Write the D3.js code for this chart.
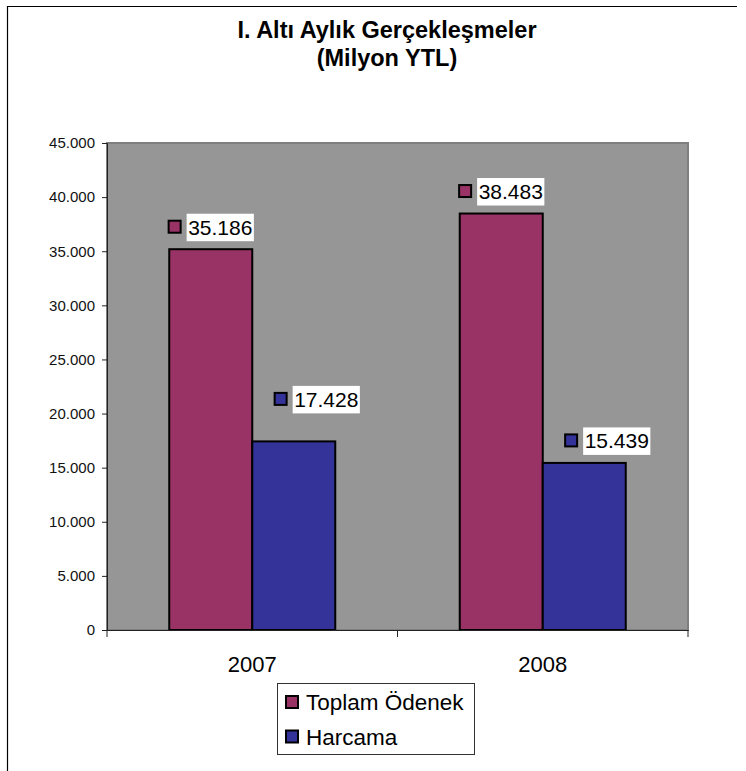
<!DOCTYPE html>
<html>
<head>
<meta charset="utf-8">
<script src="https://cdn.jsdelivr.net/npm/d3@7"></script>
<style>
  body { margin: 0; background: #fff; }
  svg { display: block; font-family: "Liberation Sans", Arial, sans-serif; }
</style>
</head>
<body>
<svg id="chart" width="746" height="771"></svg>
<script>
// data
const categories = ['2007', '2008'];
const seriesNames = ['Toplam Ödenek', 'Harcama'];
const toplamOdenek = [35186, 38483];
const harcama = [17428, 15439];
const yTicks = [0, 5000, 10000, 15000, 20000, 25000, 30000, 35000, 40000, 45000];
const titleLines = ['I. Altı Aylık Gerçekleşmeler', '(Milyon YTL)'];

const colors = ['#993366', '#333399'];
// hand-placed label shifts, [series][category] -> [dx, dy]
const labelShift = [[[0, 0], [0, 0]], [[23, 20], [23, 0]]];

const values = [toplamOdenek, harcama];
const trFormat = d3.formatLocale({ decimal: ',', thousands: '.', grouping: [3], currency: ['', ''] }).format(',d');

const svg = d3.select('#chart');
const margin = { top: 143, bottom: 141, left: 107, right: 58 };
const width = +svg.attr('width');
const height = +svg.attr('height');

// outer frame (only top and left are inside the picture)
svg.append('path')
  .attr('d', `M7.5,${height} V6.5 H737`)
  .attr('fill', 'none')
  .attr('stroke', '#000')
  .attr('stroke-width', 1.2);

// title
svg.append('text')
  .attr('text-anchor', 'middle')
  .attr('font-weight', 'bold')
  .attr('font-size', 23.5)
  .selectAll('tspan')
  .data(titleLines)
  .join('tspan')
  .attr('x', 387)
  .attr('y', (d, i) => 38 + i * 28)
  .text(d => d);

let x0 = d3.scaleBand()
  .domain(categories)
  .range([margin.left, width - margin.right])
  .padding(0);
let x1 = d3.scaleBand()
  .domain(seriesNames)
  .range([0, x0.bandwidth()])
  .paddingInner(0)
  .paddingOuter(0.75);
let y = d3.scaleLinear()
  .domain([0, 45000])
  .range([height - margin.bottom, margin.top]);

// plot area
svg.append('rect')
  .attr('x', margin.left)
  .attr('y', margin.top)
  .attr('width', width - margin.left - margin.right)
  .attr('height', y(0) - margin.top)
  .attr('fill', '#969696')
  .attr('stroke', '#7f7f7f')
  .attr('stroke-width', 2);

// y axis
let yAxis = g => g
  .attr('transform', `translate(${margin.left},0)`)
  .call(d3.axisLeft(y).tickValues(yTicks).tickFormat(trFormat).tickSize(5).tickPadding(7))
  .call(g => g.selectAll('text').attr('font-size', 15).attr('fill', '#111').attr('font-family', 'Liberation Sans, Arial, sans-serif'))
  .call(g => g.selectAll('line, path').attr('stroke', '#222'));
svg.append('g').call(yAxis);

// bars
const bars = [];
seriesNames.forEach((s, si) => {
  categories.forEach((c, ci) => {
    bars.push({ series: s, si: si, cat: c, ci: ci, value: values[si][ci] });
  });
});

svg.append('g')
  .selectAll('rect')
  .data(bars)
  .join('rect')
  .attr('x', d => x0(d.cat) + x1(d.series))
  .attr('y', d => y(d.value))
  .attr('width', x1.bandwidth())
  .attr('height', d => y(0) - y(d.value))
  .attr('fill', d => colors[d.si])
  .attr('stroke', '#000')
  .attr('stroke-width', 2);

// x axis
let xAxis = g => g
  .attr('transform', `translate(0,${y(0)})`)
  .call(d3.axisBottom(x0).tickSize(0).tickPadding(26).tickSizeOuter(0))
  .call(g => g.select('.domain').attr('stroke', '#222'))
  .call(g => g.selectAll('text').attr('font-size', 22).attr('fill', '#000').attr('font-family', 'Liberation Sans, Arial, sans-serif'));
svg.append('g').call(xAxis);

// category boundary ticks
const boundaries = categories.map(c => x0(c)).concat([x0.range()[1]]);
svg.append('g')
  .selectAll('line')
  .data(boundaries)
  .join('line')
  .attr('x1', d => d).attr('x2', d => d)
  .attr('y1', y(0)).attr('y2', y(0) + 7)
  .attr('stroke', '#222');

// data labels
const lab = svg.append('g').attr('font-size', 21);
bars.forEach(d => {
  const [dx, dy] = labelShift[d.si][d.ci];
  const g = lab.append('g');
  const t = g.append('text').text(trFormat(d.value));
  const tw = t.node().getComputedTextLength();
  const boxW = tw + 3;
  const groupW = 14 + 5 + boxW;
  const cx = x0(d.cat) + x1(d.series) + x1.bandwidth() / 2 + dx;
  const left = cx - groupW / 2;
  const boxBottom = y(d.value) - 8 - dy;
  const boxTop = boxBottom - 27.5;
  g.insert('rect', 'text')
    .attr('x', left + 19)
    .attr('y', boxTop)
    .attr('width', boxW)
    .attr('height', 27.5)
    .attr('fill', '#fff');
  t.attr('x', left + 20.5).attr('y', boxTop + 21);
  g.append('rect')
    .attr('x', left + 1)
    .attr('y', boxTop + 7)
    .attr('width', 12)
    .attr('height', 12)
    .attr('fill', colors[d.si])
    .attr('stroke', '#000')
    .attr('stroke-width', 2);
});

// legend
const legend = svg.append('g').attr('transform', 'translate(277.5,683.5)');
legend.append('rect')
  .attr('width', 197)
  .attr('height', 71)
  .attr('fill', '#fff')
  .attr('stroke', '#333')
  .attr('stroke-width', 1);
const item = legend.selectAll('g.item')
  .data(seriesNames)
  .join('g')
  .attr('class', 'item')
  .attr('transform', (d, i) => `translate(0,${i * 34.5})`);
item.append('rect')
  .attr('x', 8.5)
  .attr('y', 12.5)
  .attr('width', 12)
  .attr('height', 12)
  .attr('fill', (d, i) => colors[i])
  .attr('stroke', '#000')
  .attr('stroke-width', 2);
item.append('text')
  .attr('x', 28.5)
  .attr('y', 26.5)
  .attr('font-size', 22.5)
  .text(d => d);
</script>
</body>
</html>
